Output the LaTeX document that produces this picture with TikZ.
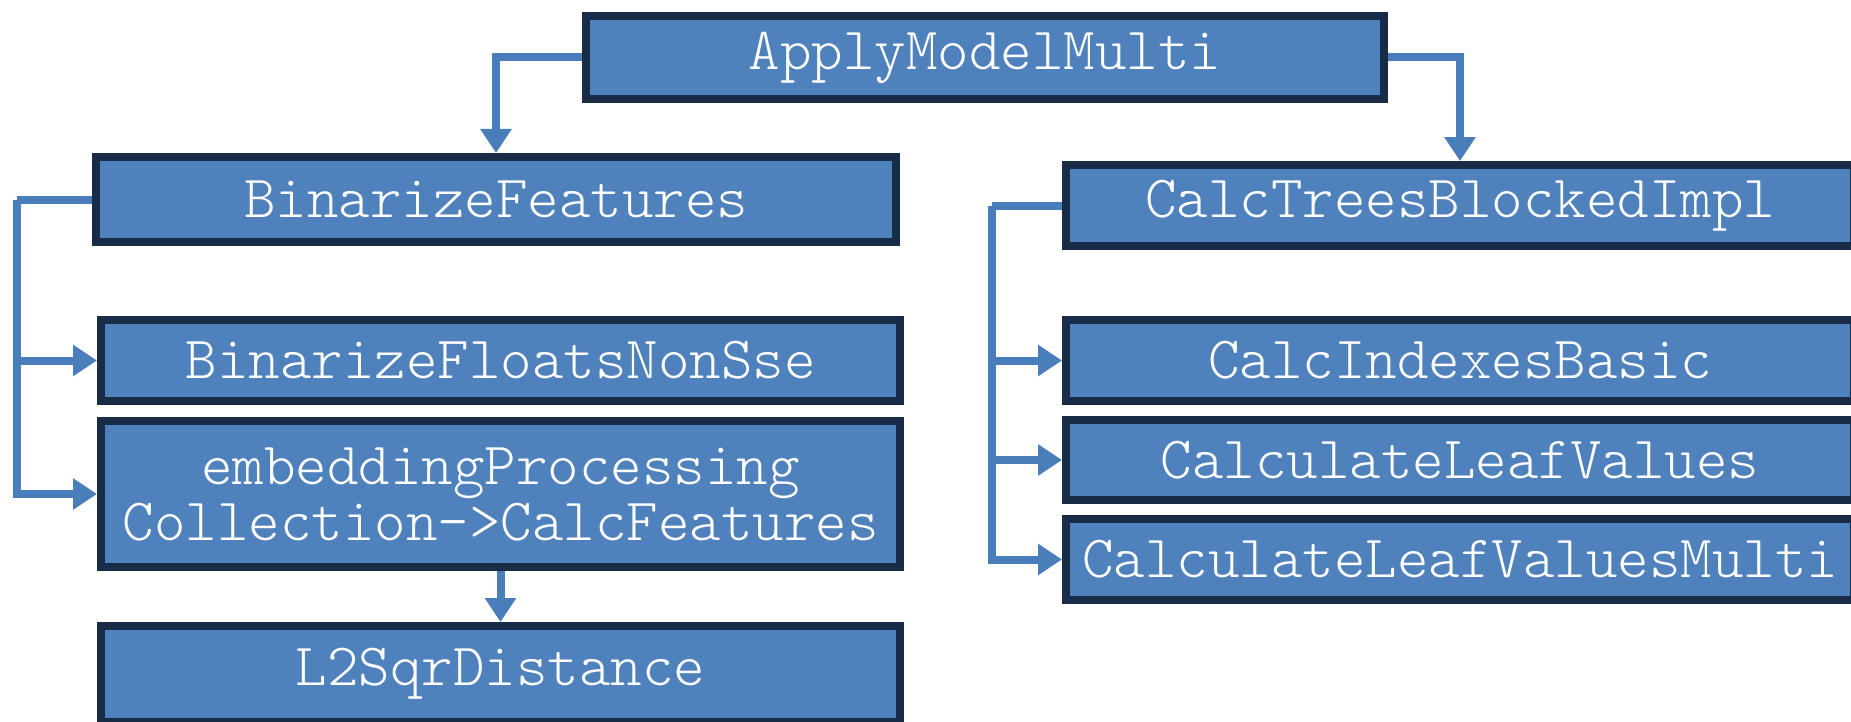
\documentclass[tikz,border=0pt]{standalone}
\usepackage{fontspec}
\newfontfamily\lightmono{Latin Modern Mono Light}
\usetikzlibrary{arrows.meta}
\definecolor{boxfill}{RGB}{79,129,189}
\definecolor{boxdraw}{RGB}{24,44,72}
\definecolor{connblue}{RGB}{74,126,187}
\tikzset{
  fbox/.style={draw=boxdraw, fill=boxfill, line width=4pt, inner sep=0pt,
    text=white, align=center, font=\lightmono\fontsize{30}{28}\selectfont},
  conn/.style={draw=connblue, line width=4pt, -{Triangle[width=15pt,length=12pt]}},
  bus/.style={draw=connblue, line width=4pt}
}
\begin{document}
\begin{tikzpicture}[x=0.5pt,y=-0.5pt]
\useasboundingbox (0,0) rectangle (1851,722);
\begin{scope}
\clip (0,0) rectangle (1851,722);
\node[fbox, minimum width=399pt, minimum height=41.5pt] (apply) at (985,57.5) {ApplyModelMulti};
\node[fbox, minimum width=400pt, minimum height=42.5pt] (binf) at (496,199.5) {BinarizeFeatures};
\node[fbox, minimum width=394pt, minimum height=40.5pt] (calct) at (1460,205.5) {CalcTreesBlockedImpl};
\node[fbox, minimum width=399.5pt, minimum height=40.5pt] (binfl) at (500.5,360.5) {BinarizeFloatsNonSse};
\node[fbox, minimum width=399.5pt, minimum height=73pt] (emb) at (500.5,494) {embeddingProcessing\\Collection->CalcFeatures};
\node[fbox, minimum width=399.5pt, minimum height=48pt] (l2) at (500.5,674) {L2SqrDistance};
\node[fbox, minimum width=394pt, minimum height=40.5pt] (cib) at (1460,360.5) {CalcIndexesBasic};
\node[fbox, minimum width=394pt, minimum height=40pt] (clv) at (1460,460) {CalculateLeafValues};
\node[fbox, minimum width=394pt, minimum height=40.5pt] (clvm) at (1460,559.5) {CalculateLeafValuesMulti};

\coordinate (lbus) at (17,199.5);
\coordinate (rbus) at (992,205.5);

\draw[conn] (apply.west) -| (binf.north);
\draw[conn] (apply.east) -| (calct.north);
\draw[bus] (binf.west) -- (lbus);
\draw[conn] (lbus) |- (binfl.west);
\draw[conn] (lbus) |- (emb.west);
\draw[bus] (calct.west) -- (rbus);
\draw[conn] (rbus) |- (cib.west);
\draw[conn] (rbus) |- (clv.west);
\draw[conn] (rbus) |- (clvm.west);
\draw[conn] (emb.south) -- (l2.north);
\end{scope}
\end{tikzpicture}
\end{document}
